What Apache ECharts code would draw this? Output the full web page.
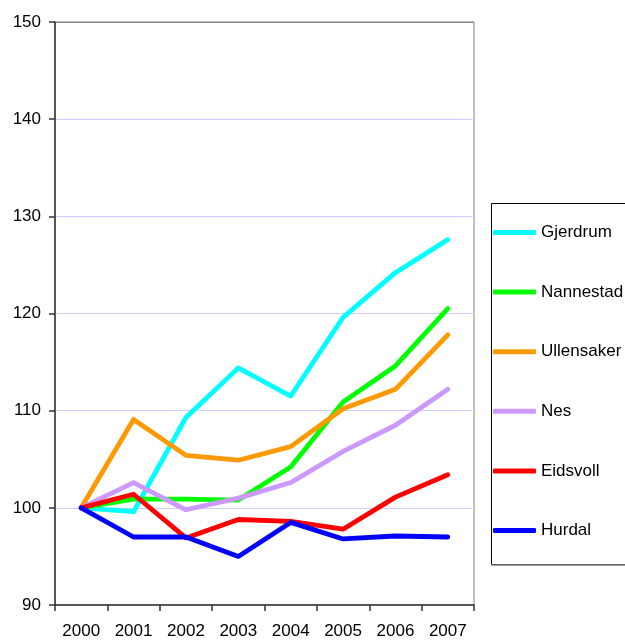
<!DOCTYPE html>
<html>
<head>
<meta charset="utf-8">
<script src="https://cdn.jsdelivr.net/npm/echarts@6/dist/echarts.min.js"></script>
<style>
html,body{margin:0;padding:0;background:#fff;}
#chart{width:625px;height:640px;}
</style>
</head>
<body>
<div id="chart"></div>
<script>
var years = ['2000','2001','2002','2003','2004','2005','2006','2007'];
var gjerdrum   = [100, 99.6, 109.3, 114.4, 111.5, 119.6, 124.2, 127.6];
var nannestad  = [100, 100.9, 100.9, 100.8, 104.2, 110.9, 114.6, 120.5];
var ullensaker = [100, 109.1, 105.4, 104.9, 106.3, 110.2, 112.2, 117.8];
var nes        = [100, 102.6, 99.8, 101.0, 102.6, 105.8, 108.5, 112.2];
var eidsvoll   = [100, 101.4, 96.9, 98.8, 98.6, 97.8, 101.1, 103.4];
var hurdal     = [100, 97.0, 97.0, 95.0, 98.5, 96.8, 97.1, 97.0];
var yTicks = [90, 100, 110, 120, 130, 140, 150];

var names = ['Gjerdrum','Nannestad','Ullensaker','Nes','Eidsvoll','Hurdal'];
var datas = [gjerdrum, nannestad, ullensaker, nes, eidsvoll, hurdal];
var colors = ['#00FFFF','#00FF00','#FF9900','#CC99FF','#FF0000','#0000FF'];

var font = 'Liberation Sans, Arial, sans-serif';
var chart = echarts.init(document.getElementById('chart'), null, {renderer:'canvas'});
var series = names.map(function(n, i){
  return {
    name: n, type: 'line', data: datas[i], showSymbol: false, symbol: 'none',
    lineStyle: {color: colors[i], width: 4.8, cap: 'round', join: 'round'},
    itemStyle: {color: colors[i]},
    animation: false
  };
});
chart.setOption({
  animation: false,
  backgroundColor: '#ffffff',
  grid: {left: 55, right: 151, top: 22, bottom: 34, show: true, borderColor: '#808080', borderWidth: 1, backgroundColor: 'transparent'},
  xAxis: {
    type: 'category', data: years, boundaryGap: true,
    axisLine: {lineStyle: {color: '#333333', width: 1.5}},
    axisTick: {show: true, length: 6, inside: false, lineStyle: {color: '#333333', width: 1.5}},
    axisLabel: {color: '#000', fontFamily: font, fontSize: 17, margin: 18}
  },
  yAxis: {
    type: 'value', min: yTicks[0], max: yTicks[yTicks.length-1], interval: 10,
    axisLine: {show: true, lineStyle: {color: '#333333', width: 1.5}},
    axisTick: {show: true, length: 6, inside: false, lineStyle: {color: '#333333', width: 1.5}},
    axisLabel: {color: '#000', fontFamily: font, fontSize: 17, margin: 14},
    splitLine: {show: true, lineStyle: {color: ['#ccccff','#ccccff','#ccccff','#ccccff','#ccccff','#ccccff','#808080'], width: 1}}
  },
  legend: {
    orient: 'vertical', left: 493, top: 222.5, padding: 0,
    itemWidth: 43, itemHeight: 5, itemGap: 39.6, icon: 'roundRect',
    textStyle: {color: '#000', fontFamily: font, fontSize: 17, lineHeight: 20, padding: [0,0,0,0]},
    data: names
  },
  graphic: [{
    type: 'rect', left: 491, top: 203, z: -1,
    shape: {width: 200, height: 361},
    style: {fill: '#fff', stroke: '#000', lineWidth: 1}
  }, {
    type: 'line', z: -1,
    shape: {x1: 491, y1: 565, x2: 625, y2: 565},
    style: {stroke: '#808080', lineWidth: 1.5}
  }],
  series: series
});
</script>
</body>
</html>
